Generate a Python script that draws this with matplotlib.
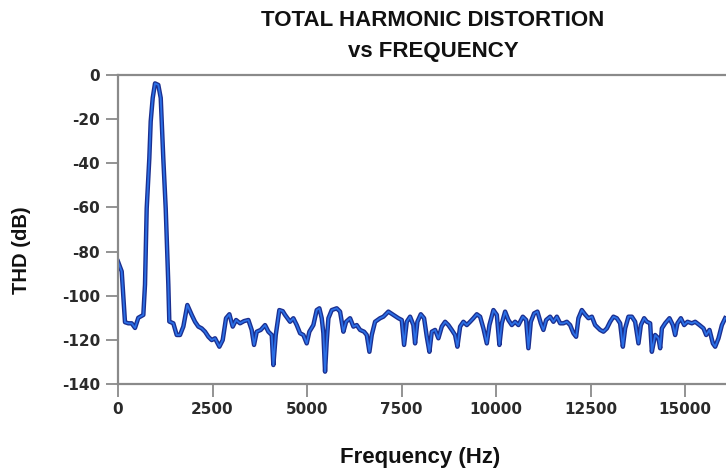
import matplotlib
matplotlib.use("Agg")
import matplotlib.pyplot as plt

# spectrum (Hz, dB)
freq_hz = [
    0, 98, 140, 185, 272, 362, 450, 537, 670, 714, 759, 828, 865, 918, 979,
    1066, 1130, 1156, 1198, 1262, 1331, 1357, 1463, 1553, 1640, 1728, 1834,
    1950, 2037, 2125, 2214, 2302, 2390, 2478, 2566, 2681, 2769, 2857, 2946,
    3034, 3122, 3228, 3333, 3448, 3536, 3598, 3669, 3775, 3889, 3977, 4066,
    4109, 4172, 4267, 4357, 4418, 4550, 4638, 4727, 4815, 4903, 4991, 5061,
    5167, 5256, 5326, 5388, 5432, 5476, 5520, 5565, 5653, 5785, 5873, 5961,
    6032, 6138, 6226, 6314, 6402, 6508, 6579, 6649, 6711, 6799, 6931, 7019,
    7151, 7283, 7416, 7505, 7566, 7637, 7725, 7812, 7857, 7918, 8008, 8095,
    8167, 8236, 8299, 8386, 8474, 8563, 8651, 8738, 8828, 8915, 8976, 9048,
    9135, 9225, 9312, 9399, 9489, 9577, 9664, 9754, 9823, 9929, 10019, 10087,
    10151, 10238, 10325, 10415, 10503, 10590, 10706, 10794, 10854, 10918,
    11005, 11093, 11183, 11251, 11323, 11429, 11516, 11606, 11693, 11780,
    11870, 11958, 12045, 12116, 12177, 12267, 12354, 12442, 12532, 12619,
    12751, 12839, 12929, 13016, 13103, 13193, 13280, 13352, 13413, 13500,
    13590, 13677, 13765, 13828, 13915, 13987, 14074, 14119, 14206, 14294,
    14339, 14384, 14471, 14585, 14675, 14735, 14796, 14886, 14974, 15061,
    15177, 15265, 15379, 15485, 15556, 15643, 15733, 15794, 15881, 15971,
    16058,
]
thd_db = [
    -84.5, -89, -100, -112, -112.5, -112.5, -114.6, -110, -108.7, -95, -60.5,
    -37.8, -21, -10.4, -3.8, -4.5, -10.4, -21, -37.8, -60.5, -95, -111.7,
    -112.5, -117.8, -117.8, -114, -104.2, -108.7, -111.8, -114, -114.8,
    -116.3, -118.6, -120.1, -119.3, -123.1, -120.1, -110.2, -108.4, -114,
    -111, -112.5, -111.5, -111, -115.5, -122.3, -116.3, -115.5, -113.3,
    -116.3, -117.8, -131.4, -117.8, -106.5, -107, -108.7, -111.8, -110.2,
    -113.3, -117, -117.8, -121.6, -116.3, -113.3, -106.5, -105.7, -110.2,
    -117, -134.4, -120.8, -110.2, -106.5, -105.7, -107.2, -116.3, -111.8,
    -110.2, -114, -113.3, -115.5, -116.3, -117.8, -125.4, -117.8, -111.8,
    -110.2, -109.5, -107.2, -108.7, -110.2, -111, -122.3, -111.8, -109.5,
    -113.3, -121.6, -111.8, -108.4, -110.2, -118.6, -125.4, -116.3, -115.5,
    -119.3, -114, -111.8, -113.3, -115.5, -117.8, -123.1, -114, -111.8,
    -113.3, -111.8, -110.2, -108.4, -109.5, -114.8, -121.6, -113.3, -106.5,
    -108.7, -122.3, -112.5, -107.2, -111, -113.3, -111.8, -113.3, -109.5,
    -111, -123.8, -111.8, -108, -107.2, -112.5, -115.5, -111, -109.5,
    -111.8, -109.5, -112.5, -112.5, -111.8, -113.3, -117, -118.6, -110.2,
    -106.5, -108.5, -110.2, -109.5, -113.3, -115.5, -116.3, -114.8, -111.8,
    -109.5, -110.2, -112.5, -123.1, -114.8, -109.5, -109.5, -111.8, -121.6,
    -113.3, -110.2, -111.8, -112.5, -125.4, -117.8, -119.3, -123.8, -114.8,
    -112.5, -110.2, -113.3, -117.8, -112.5, -110.2, -113.3, -111.8, -112.5,
    -111.8, -113.3, -114.8, -117.8, -115.5, -121.6, -123.1, -119.3, -113.3,
    -110.2,
]
x_ticks = [0, 2500, 5000, 7500, 10000, 12500, 15000]
y_ticks = [0, -20, -40, -60, -80, -100, -120, -140]

W, H = 726, 472
fig = plt.figure(figsize=(W / 100, H / 100), dpi=100)
ax = fig.add_axes([118 / W, 1 - 384 / H, 1 - 118 / W, (384 - 75) / H])

ax.plot(freq_hz, thd_db, color="#1b2f8f", lw=3.2, solid_joinstyle="round")
ax.plot(freq_hz, thd_db, color="#2b6fe6", lw=1.3, solid_joinstyle="round")

ax.set_xlim(0, 16080)
ax.set_ylim(-140, 0)
ax.set_xticks(x_ticks)
ax.set_yticks(y_ticks)
ax.set_xticklabels([str(t) for t in x_ticks])
ax.set_yticklabels([str(t) for t in y_ticks])

grey = "#8a8a8a"
for side in ["left", "bottom", "top"]:
    ax.spines[side].set_color(grey)
    ax.spines[side].set_linewidth(1.6)
ax.spines["right"].set_visible(False)
ax.tick_params(colors=grey, width=1.3, length=9, labelcolor="#2a2a2a",
               labelsize=11, pad=4)
for lab in ax.get_xticklabels() + ax.get_yticklabels():
    lab.set_fontweight("bold")
    lab.set_family("DejaVu Sans")

txt = dict(ha="center", va="center", fontweight="bold",
           family="Liberation Sans", color="#111111")
fig.text(433 / W, 1 - 21 / H, "TOTAL HARMONIC DISTORTION", fontsize=16, **txt)
fig.text(433 / W, 1 - 51 / H, "vs FREQUENCY", fontsize=16, **txt)
fig.text(420 / W, 1 - 457 / H, "Frequency (Hz)", fontsize=16, **txt)
fig.text(22 / W, 1 - 250 / H, "THD (dB)", rotation=90, fontsize=14.5, **txt)

fig.savefig("out.png", dpi=100)
